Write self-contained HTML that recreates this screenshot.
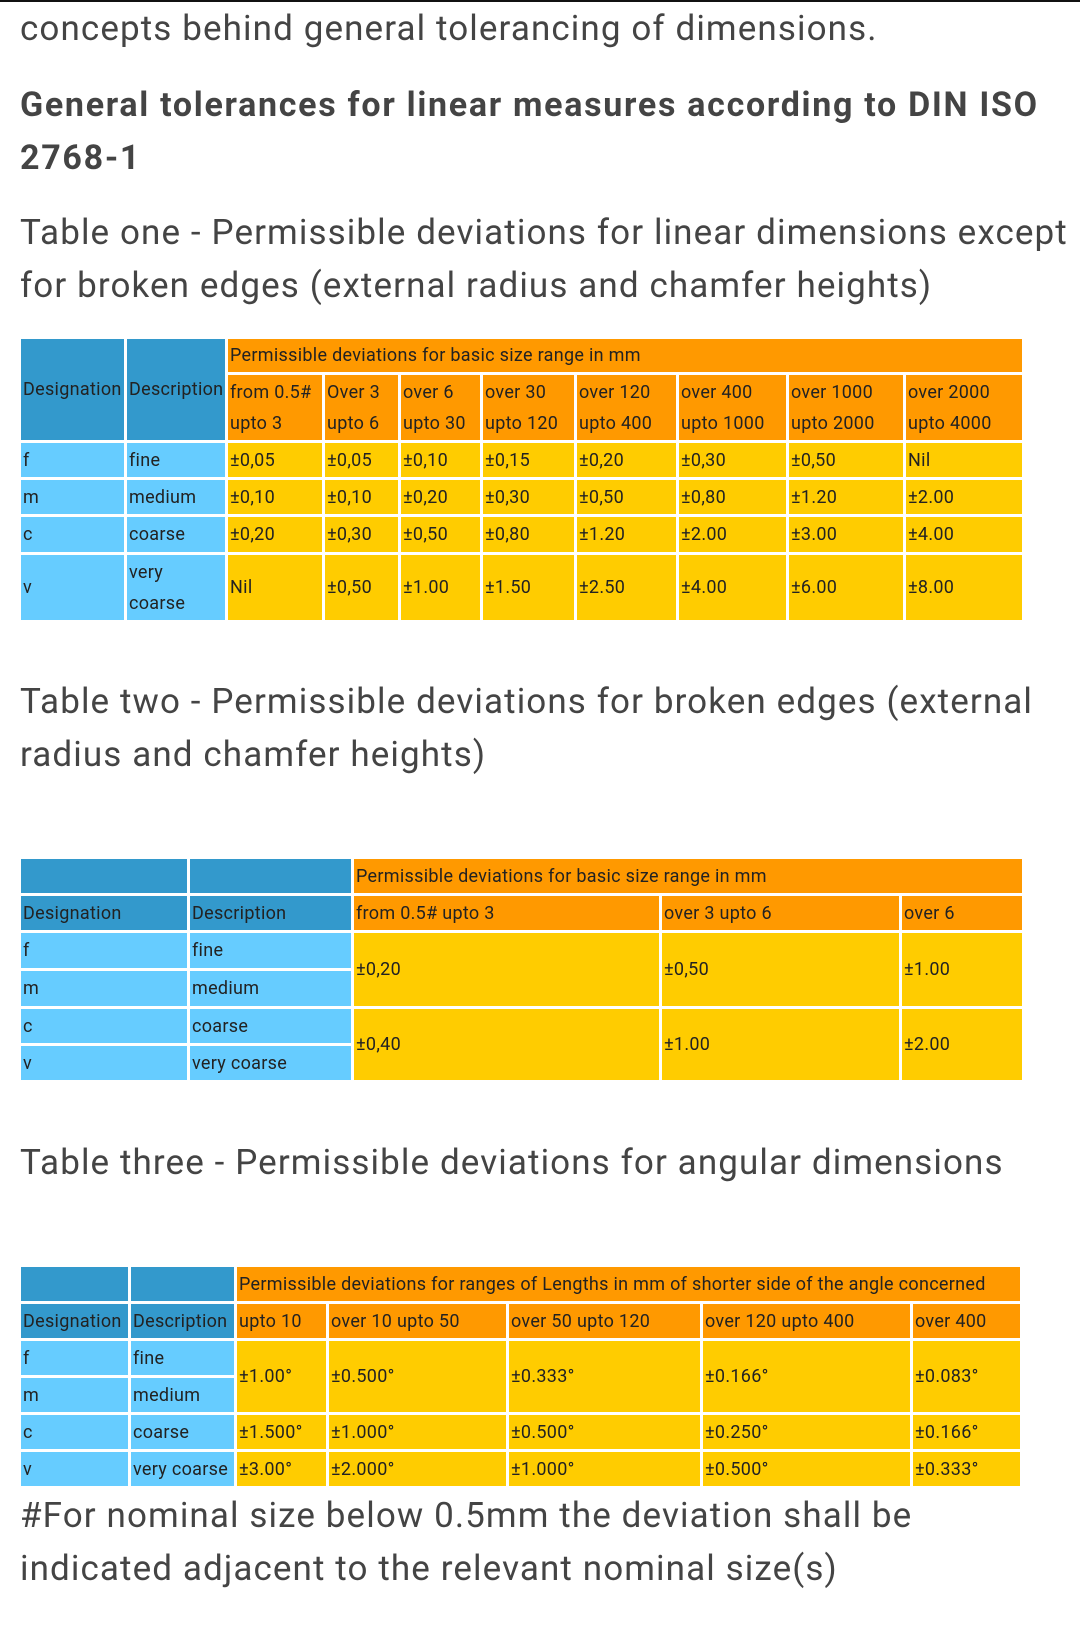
<!DOCTYPE html>
<html><head><meta charset="utf-8"><style>
body{margin:0;width:1080px;height:1649px;background:#fff;position:relative;overflow:hidden;font-family:"Roboto","Liberation Sans",sans-serif;}
.topline{position:absolute;left:0;top:0;width:1080px;height:2px;background:#111;}
.t{position:absolute;left:20px;font-size:35px;line-height:52px;color:#444;white-space:nowrap;letter-spacing:1.1px;}
.b{font-weight:bold;font-size:34px;letter-spacing:1.7px;}
table{position:absolute;left:18px;border-collapse:separate;border-spacing:3px;font-size:18px;color:#222;table-layout:fixed;letter-spacing:0.3px;}
td{padding:0 0 0 2px;vertical-align:middle;line-height:31px;overflow:hidden;white-space:nowrap;}
.d{background:#3399cc;}
.l{background:#66ccff;}
.o{background:#ff9900;}
.y{background:#ffcc00;}
</style></head><body>
<div class="topline"></div>
<div class="t" style="top:3px">concepts behind general tolerancing of dimensions.</div>
<div class="t b" style="top:79px">General tolerances for linear measures according to DIN ISO</div>
<div class="t b" style="top:132px">2768-1</div>
<div class="t" style="top:207px">Table one - Permissible deviations for linear dimensions except</div>
<div class="t" style="top:260px">for broken edges (external radius and chamfer heights)</div>

<table style="top:336px">
<colgroup><col style="width:103px"><col style="width:98px"><col style="width:94px"><col style="width:73px"><col style="width:79px"><col style="width:91px"><col style="width:99px"><col style="width:107px"><col style="width:114px"><col style="width:116px"></colgroup>
<tr style="height:33px"><td class="d" rowspan="2">Designation</td><td class="d" rowspan="2">Description</td><td class="o" colspan="8">Permissible deviations for basic size range in mm</td></tr>
<tr style="height:65px"><td class="o">from 0.5#<br>upto 3</td><td class="o">Over 3<br>upto 6</td><td class="o">over 6<br>upto 30</td><td class="o">over 30<br>upto 120</td><td class="o">over 120<br>upto 400</td><td class="o">over 400<br>upto 1000</td><td class="o">over 1000<br>upto 2000</td><td class="o">over 2000<br>upto 4000</td></tr>
<tr style="height:34px"><td class="l">f</td><td class="l">fine</td><td class="y">±0,05</td><td class="y">±0,05</td><td class="y">±0,10</td><td class="y">±0,15</td><td class="y">±0,20</td><td class="y">±0,30</td><td class="y">±0,50</td><td class="y">Nil</td></tr>
<tr style="height:34px"><td class="l">m</td><td class="l">medium</td><td class="y">±0,10</td><td class="y">±0,10</td><td class="y">±0,20</td><td class="y">±0,30</td><td class="y">±0,50</td><td class="y">±0,80</td><td class="y">±1.20</td><td class="y">±2.00</td></tr>
<tr style="height:35px"><td class="l">c</td><td class="l">coarse</td><td class="y">±0,20</td><td class="y">±0,30</td><td class="y">±0,50</td><td class="y">±0,80</td><td class="y">±1.20</td><td class="y">±2.00</td><td class="y">±3.00</td><td class="y">±4.00</td></tr>
<tr style="height:65px"><td class="l">v</td><td class="l">very<br>coarse</td><td class="y">Nil</td><td class="y">±0,50</td><td class="y">±1.00</td><td class="y">±1.50</td><td class="y">±2.50</td><td class="y">±4.00</td><td class="y">±6.00</td><td class="y">±8.00</td></tr>
</table>

<div class="t" style="top:676px">Table two - Permissible deviations for broken edges (external</div>
<div class="t" style="top:729px">radius and chamfer heights)</div>

<table style="top:856px">
<colgroup><col style="width:166px"><col style="width:161px"><col style="width:305px"><col style="width:237px"><col style="width:120px"></colgroup>
<tr style="height:34px"><td class="d"></td><td class="d"></td><td class="o" colspan="3">Permissible deviations for basic size range in mm</td></tr>
<tr style="height:34px"><td class="d">Designation</td><td class="d">Description</td><td class="o">from 0.5# upto 3</td><td class="o">over 3 upto 6</td><td class="o">over 6</td></tr>
<tr style="height:35px"><td class="l">f</td><td class="l">fine</td><td class="y" rowspan="2">±0,20</td><td class="y" rowspan="2">±0,50</td><td class="y" rowspan="2">±1.00</td></tr>
<tr style="height:35px"><td class="l">m</td><td class="l">medium</td></tr>
<tr style="height:34px"><td class="l">c</td><td class="l">coarse</td><td class="y" rowspan="2">±0,40</td><td class="y" rowspan="2">±1.00</td><td class="y" rowspan="2">±2.00</td></tr>
<tr style="height:34px"><td class="l">v</td><td class="l">very coarse</td></tr>
</table>

<div class="t" style="top:1137px">Table three - Permissible deviations for angular dimensions</div>

<table style="top:1264px">
<colgroup><col style="width:107px"><col style="width:103px"><col style="width:89px"><col style="width:177px"><col style="width:191px"><col style="width:207px"><col style="width:107px"></colgroup>
<tr style="height:34px"><td class="d"></td><td class="d"></td><td class="o" colspan="5">Permissible deviations for ranges of Lengths in mm of shorter side of the angle concerned</td></tr>
<tr style="height:34px"><td class="d">Designation</td><td class="d">Description</td><td class="o">upto 10</td><td class="o">over 10 upto 50</td><td class="o">over 50 upto 120</td><td class="o">over 120 upto 400</td><td class="o">over 400</td></tr>
<tr style="height:34px"><td class="l">f</td><td class="l">fine</td><td class="y" rowspan="2">±1.00°</td><td class="y" rowspan="2">±0.500°</td><td class="y" rowspan="2">±0.333°</td><td class="y" rowspan="2">±0.166°</td><td class="y" rowspan="2">±0.083°</td></tr>
<tr style="height:34px"><td class="l">m</td><td class="l">medium</td></tr>
<tr style="height:34px"><td class="l">c</td><td class="l">coarse</td><td class="y">±1.500°</td><td class="y">±1.000°</td><td class="y">±0.500°</td><td class="y">±0.250°</td><td class="y">±0.166°</td></tr>
<tr style="height:34px"><td class="l">v</td><td class="l">very coarse</td><td class="y">±3.00°</td><td class="y">±2.000°</td><td class="y">±1.000°</td><td class="y">±0.500°</td><td class="y">±0.333°</td></tr>
</table>

<div class="t" style="top:1490px">#For nominal size below 0.5mm the deviation shall be</div>
<div class="t" style="top:1543px">indicated adjacent to the relevant nominal size(s)</div>
</body></html>
